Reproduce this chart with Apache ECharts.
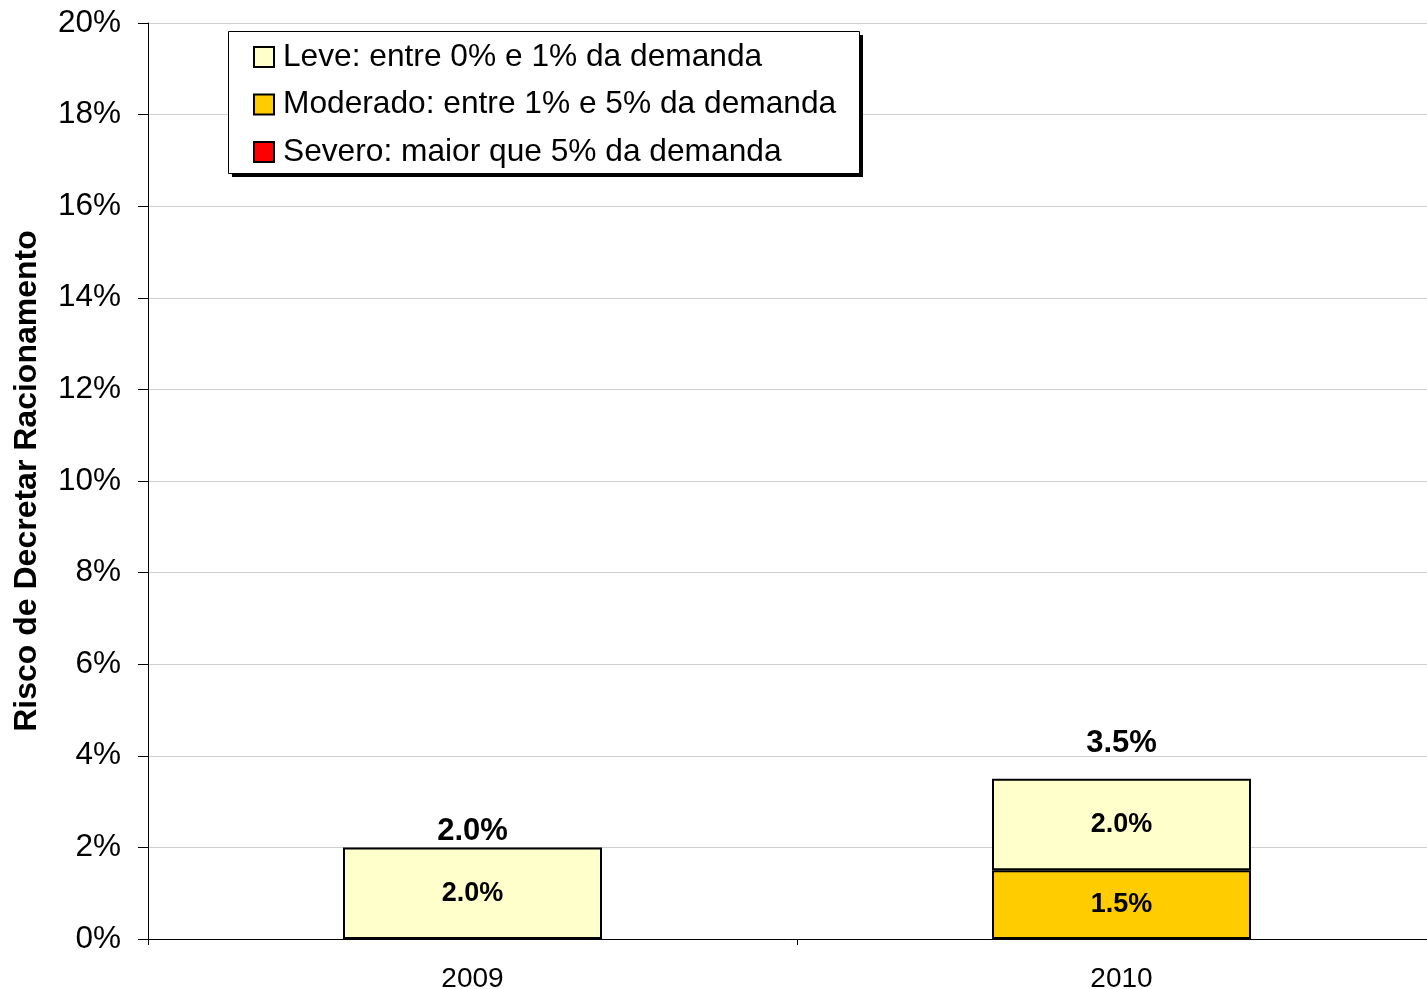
<!DOCTYPE html>
<html>
<head>
<meta charset="utf-8">
<title>Risco de Decretar Racionamento</title>
<script src="https://cdn.jsdelivr.net/npm/echarts@6/dist/echarts.min.js"></script>
<style>
    html, body { margin: 0; padding: 0; background: #fff; }
    #riscoChart { width: 1427px; height: 989px; }
</style>
</head>
<body>
<div id="riscoChart"></div>
<script>
// dados do grafico (em %)
var anos = ['2009', '2010'];
var leve = [2.0, 2.0];
var moderado = [0, 1.5];
var severo = [0, 0];
var nomes = ['Leve: entre 0% e 1% da demanda', 'Moderado: entre 1% e 5% da demanda', 'Severo: maior que 5% da demanda'];
var yTicks = [0, 2, 4, 6, 8, 10, 12, 14, 16, 18, 20];

var fonte = '"Liberation Sans", Arial, sans-serif';

// total de cada coluna
var totais = [];
for (var i = 0; i < anos.length; i++) {
    totais.push(leve[i] + moderado[i] + severo[i]);
}

// distancia do rotulo do total ate o topo da barra
var distTotal = [0, 20];
var serieTotal = [];
for (var j = 0; j < anos.length; j++) {
    serieTotal.push({
        value: 0,
        label: { distance: distTotal[j], formatter: totais[j].toFixed(1) + '%' }
    });
}

function rotuloInterno(p) {
    return p.value > 0 ? p.value.toFixed(1) + '%' : '';
}

var labelInterno = {
    show: true,
    position: 'inside',
    fontFamily: fonte,
    fontSize: 27,
    fontWeight: 'bold',
    color: '#000',
    formatter: rotuloInterno
};

var riscoChart = echarts.init(document.getElementById('riscoChart'));
var riscoOption = {
    backgroundColor: '#fff',
    animation: false,
    // caixa da legenda com sombra
    graphic: [{
        type: 'rect',
        z: 90,
        shape: { x: 232, y: 35, width: 631, height: 142 },
        style: { fill: '#000' }
    }, {
        type: 'rect',
        z: 91,
        shape: { x: 228.5, y: 31.5, width: 631, height: 142 },
        style: { fill: '#fff', stroke: '#000', lineWidth: 1 }
    }],
    legend: {
        data: nomes,
        orient: 'vertical',
        left: 253,
        top: 41,
        padding: 0,
        z: 95,
        itemGap: 15.5,
        itemWidth: 20,
        itemHeight: 20,
        icon: 'rect',
        selectedMode: false,
        textStyle: {
            fontFamily: fonte,
            fontSize: 31.7,
            lineHeight: 32,
            color: '#000',
            padding: [0, 0, 0, 4]
        }
    },
    grid: {
        left: 148,
        right: -19,
        top: 23,
        bottom: 50,
        containLabel: false,
        outerBoundsMode: 'none'
    },
    xAxis: {
        type: 'category',
        data: anos,
        axisLine: { lineStyle: { color: '#000', width: 1 } },
        axisTick: { show: true, length: 6, lineStyle: { color: '#000' } },
        axisLabel: {
            fontFamily: fonte,
            fontSize: 28,
            color: '#000',
            margin: 26
        }
    },
    yAxis: {
        type: 'value',
        min: yTicks[0],
        max: yTicks[yTicks.length - 1],
        interval: yTicks[1] - yTicks[0],
        name: 'Risco de Decretar Racionamento',
        nameLocation: 'middle',
        nameGap: 105,
        nameTextStyle: {
            fontFamily: fonte,
            fontSize: 32,
            fontWeight: 'bold',
            color: '#000'
        },
        axisLine: { show: true, lineStyle: { color: '#000', width: 1 } },
        axisTick: { show: true, length: 10, lineStyle: { color: '#000' } },
        axisLabel: {
            formatter: '{value}%',
            fontFamily: fonte,
            fontSize: 31.5,
            color: '#000',
            margin: 27
        },
        splitLine: { lineStyle: { color: '#cfcfcf', width: 1 } }
    },
    series: [{
        name: nomes[2],
        type: 'bar',
        stack: 'risco',
        barWidth: 259,
        itemStyle: { color: '#ff0000', borderColor: '#000', borderWidth: 2 },
        label: labelInterno,
        data: severo
    }, {
        name: nomes[1],
        type: 'bar',
        stack: 'risco',
        barWidth: 259,
        itemStyle: { color: '#ffcc00', borderColor: '#000', borderWidth: 2 },
        label: labelInterno,
        data: moderado
    }, {
        name: nomes[0],
        type: 'bar',
        stack: 'risco',
        barWidth: 259,
        itemStyle: { color: '#ffffcc', borderColor: '#000', borderWidth: 2 },
        label: labelInterno,
        data: leve
    }, {
        name: 'Total',
        type: 'bar',
        stack: 'risco',
        barWidth: 259,
        itemStyle: { color: 'transparent', borderWidth: 0 },
        label: {
            show: true,
            position: 'top',
            fontFamily: fonte,
            fontSize: 31,
            fontWeight: 'bold',
            color: '#000'
        },
        data: serieTotal
    }]
};
riscoChart.setOption(riscoOption);
</script>
</body>
</html>
